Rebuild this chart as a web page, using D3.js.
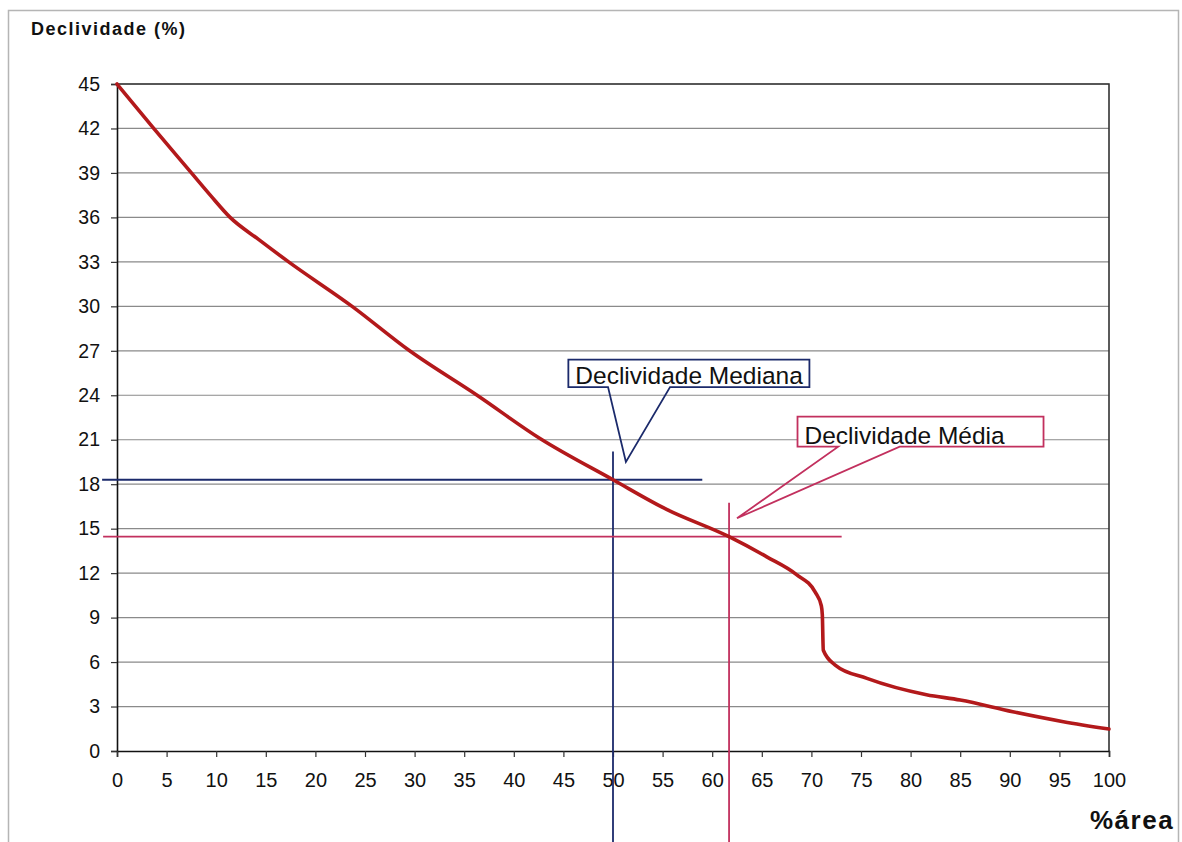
<!DOCTYPE html>
<html>
<head>
<meta charset="utf-8">
<script src="https://cdn.jsdelivr.net/npm/d3@7"></script>
<style>
  html, body { margin: 0; padding: 0; background: #fff; }
  svg { display: block; font-family: "Liberation Sans", Arial, sans-serif; }
</style>
</head>
<body>
<svg id="chart" width="1182" height="842"></svg>
<script>
// ---- data ----
const areaPct = [0, 3.7, 7.5, 9.4, 11.4, 14.3, 17.3, 23.7, 29.5, 36.3, 42.6, 50, 55.4, 61.7, 65.5, 68.5, 70.4, 71.0, 71.1, 71.2, 72.4, 75.6, 81.6, 85, 90.3, 95.4, 100];
const slopePct = [45, 42.0, 39.0, 37.5, 36.0, 34.5, 33.0, 30.0, 27.0, 24.0, 21.1, 18.3, 16.3, 14.46, 13.1, 11.9, 10.7, 9.8, 9.2, 6.8, 5.8, 4.9, 3.8, 3.44, 2.65, 1.98, 1.48];
const xTicks = [0, 5, 10, 15, 20, 25, 30, 35, 40, 45, 50, 55, 60, 65, 70, 75, 80, 85, 90, 95, 100];
const yTicks = [0, 3, 6, 9, 12, 15, 18, 21, 24, 27, 30, 33, 36, 39, 42, 45];
const medianPoint = [50, 18.3];
const meanPoint = [61.7, 14.46];
const labels = { yTitle: "Declividade (%)", xTitle: "%área", median: "Declividade Mediana", mean: "Declividade Média" };

// ---- layout ----
const svg = d3.select("#chart");
const x = d3.scaleLinear().domain([0, 100]).range([117, 1109]);
const y = d3.scaleLinear().domain([0, 45]).range([751, 84]);

// outer frame
svg.append("path")
  .attr("d", "M8.5,842 L8.5,10.5 L1178.5,10.5 L1178.5,842")
  .attr("fill", "none").attr("stroke", "#b5b5b5").attr("stroke-width", 1.5);

// grid lines
svg.append("g").selectAll("line").data(yTicks.filter(d => d > 0)).join("line")
  .attr("x1", x(0)).attr("x2", x(100))
  .attr("y1", d => y(d)).attr("y2", d => y(d))
  .attr("stroke", "#8a8a8a").attr("stroke-width", 1.2);

// plot box (top + right)
svg.append("path")
  .attr("d", `M${x(0)},${y(45)} L${x(100)},${y(45)} L${x(100)},${y(0)}`)
  .attr("fill", "none").attr("stroke", "#333").attr("stroke-width", 1.6);

// axes
const yAxis = d3.axisLeft(y).tickValues(yTicks).tickSize(6).tickPadding(11);
const xAxis = d3.axisBottom(x).tickValues(xTicks).tickSize(6).tickPadding(16);

const gy = svg.append("g").attr("transform", `translate(${x(0)},0)`).call(yAxis);
const gx = svg.append("g").attr("transform", `translate(0,${y(0)})`).call(xAxis);
[gy, gx].forEach(g => {
  g.select(".domain").attr("stroke", "#111").attr("stroke-width", 1.6);
  g.selectAll(".tick line").attr("stroke", "#333").attr("stroke-width", 1.2);
  g.selectAll(".tick text").attr("fill", "#111").style("font-size", "19.5px")
    .style("font-family", "'Liberation Sans', Arial, sans-serif");
});
gx.selectAll(".tick text").style("font-size", "20px");

// reference lines
const navy = "#1b2a6b", crimson = "#c2305e";
// median
svg.append("line").attr("x1", x(-1.5)).attr("x2", x(59.0))
  .attr("y1", y(medianPoint[1])).attr("y2", y(medianPoint[1]))
  .attr("stroke", navy).attr("stroke-width", 1.8);
svg.append("line").attr("x1", x(medianPoint[0])).attr("x2", x(medianPoint[0]))
  .attr("y1", y(20.2)).attr("y2", 842)
  .attr("stroke", navy).attr("stroke-width", 1.8);
// mean
svg.append("line").attr("x1", x(-1.4)).attr("x2", x(73.05))
  .attr("y1", y(meanPoint[1])).attr("y2", y(meanPoint[1]))
  .attr("stroke", crimson).attr("stroke-width", 1.8);
svg.append("line").attr("x1", x(meanPoint[0])).attr("x2", x(meanPoint[0]))
  .attr("y1", y(16.75)).attr("y2", 842)
  .attr("stroke", crimson).attr("stroke-width", 1.8);

// curve
svg.append("path")
  .datum(areaPct.map((a, i) => [a, slopePct[i]]))
  .attr("fill", "none").attr("stroke", "#b3191b").attr("stroke-width", 3.6)
  .attr("stroke-linejoin", "round").attr("stroke-linecap", "round")
  .attr("d", d3.line().x(d => x(d[0])).y(d => y(d[1])).curve(d3.curveMonotoneX));

// callouts
function callout(box, base, tip, text, color) {
  const x0 = x(box[0]), x1 = x(box[1]), y0 = y(box[2]), y1 = y(box[3]);
  svg.append("rect").attr("x", x0).attr("y", y0).attr("width", x1 - x0).attr("height", y1 - y0)
    .attr("fill", "#fff").attr("stroke", "none");
  const b0 = x(base[0]), b1 = x(base[1]), tx = x(tip[0]), ty = y(tip[1]);
  svg.append("path")
    .attr("d", `M${b0},${y1} L${x0},${y1} L${x0},${y0} L${x1},${y0} L${x1},${y1} L${b1},${y1} L${tx},${ty} Z`)
    .attr("fill", "none").attr("stroke", color).attr("stroke-width", 1.8).attr("stroke-linejoin", "miter");
  svg.append("text").attr("x", x0 + 7).attr("y", y1 - 3)
    .attr("fill", "#111").style("font-size", "24.5px").text(text);
}
callout([45.5, 69.8, 26.4, 24.55], [49.5, 55.75], [51.3, 19.5], labels.median, navy);
callout([68.6, 93.4, 22.56, 20.53], [72.7, 78.9], [62.5, 15.7], labels.mean, crimson);

// titles
svg.append("text").attr("x", 31).attr("y", 35)
  .attr("fill", "#111").style("font-size", "18px").style("font-weight", "bold")
  .style("letter-spacing", "1.5px").text(labels.yTitle);
svg.append("text").attr("x", 1090).attr("y", 829)
  .attr("fill", "#111").style("font-size", "26px").style("font-weight", "bold")
  .style("letter-spacing", "1.5px").text(labels.xTitle);
</script>
</body>
</html>
